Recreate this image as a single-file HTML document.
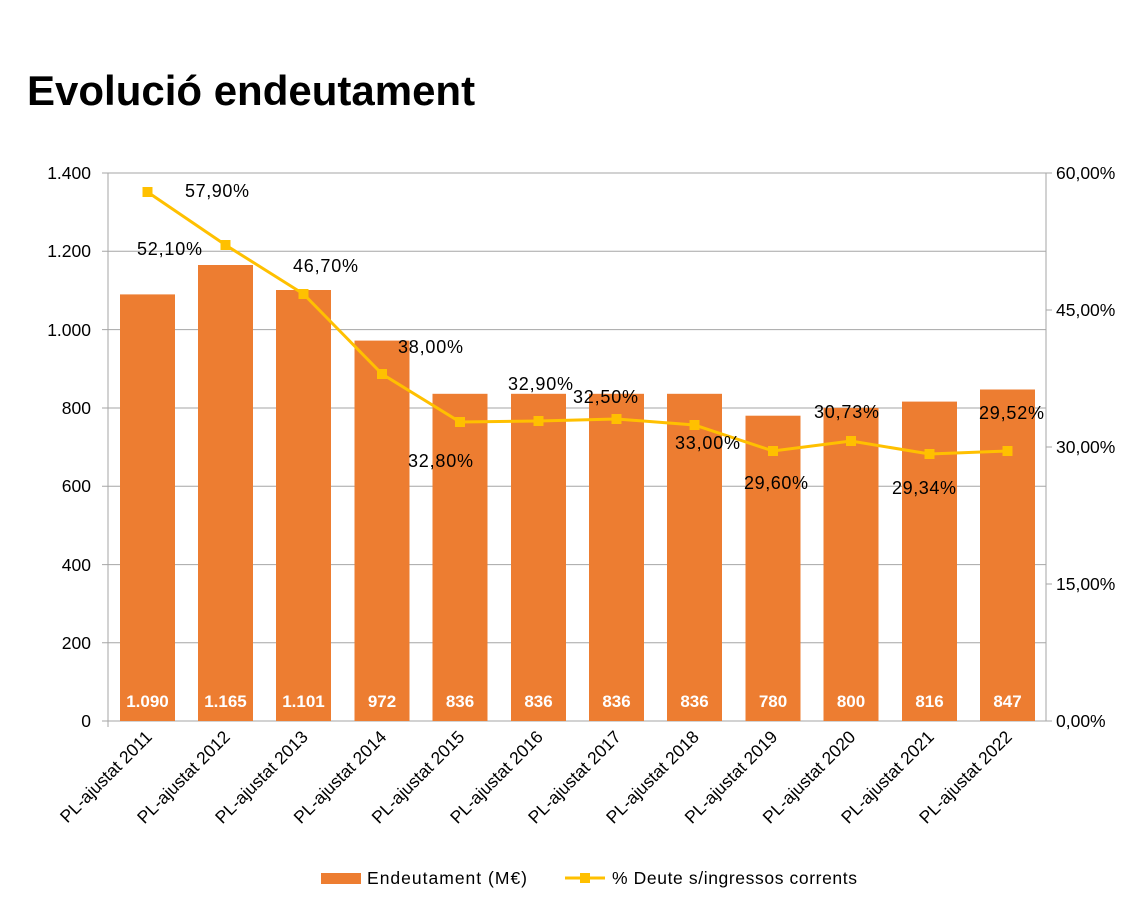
<!DOCTYPE html><html><head><meta charset="utf-8"><style>body{margin:0;background:#fff}svg{display:block}</style></head><body>
<svg width="1142" height="909" xmlns="http://www.w3.org/2000/svg" font-family="Liberation Sans, sans-serif">
<text x="27" y="105" font-size="42" font-weight="bold" fill="#000">Evolució endeutament</text>
<g stroke="#a6a6a6" stroke-width="1">
<line x1="102" y1="173" x2="1046" y2="173"/><line x1="102" y1="251.3" x2="1046" y2="251.3"/><line x1="102" y1="329.6" x2="1046" y2="329.6"/><line x1="102" y1="408" x2="1046" y2="408"/><line x1="102" y1="486.3" x2="1046" y2="486.3"/><line x1="102" y1="564.6" x2="1046" y2="564.6"/><line x1="102" y1="642.7" x2="1046" y2="642.7"/><line x1="102" y1="721" x2="1052" y2="721"/>
<line x1="108" y1="173" x2="108" y2="727"/><line x1="1046" y1="173" x2="1046" y2="721"/>
<line x1="1046" y1="310" x2="1052" y2="310"/><line x1="1046" y1="447" x2="1052" y2="447"/><line x1="1046" y1="584" x2="1052" y2="584"/><line x1="1046" y1="173" x2="1052" y2="173"/>
</g>
<g font-size="17.5" fill="#000" text-anchor="end">
<text x="91" y="179">1.400</text><text x="91" y="257">1.200</text><text x="91" y="336">1.000</text><text x="91" y="414">800</text><text x="91" y="492">600</text><text x="91" y="571">400</text><text x="91" y="649">200</text><text x="91" y="727">0</text>
</g>
<g font-size="17.5" fill="#000">
<text x="1056" y="179">60,00%</text><text x="1056" y="316">45,00%</text><text x="1056" y="453">30,00%</text><text x="1056" y="590">15,00%</text><text x="1056" y="727">0,00%</text>
</g>
<g fill="#ED7D31">
<rect x="120" y="294.4" width="55" height="426.6"/>
<rect x="198" y="265" width="55" height="456"/>
<rect x="276" y="290" width="55" height="431"/>
<rect x="354.5" y="340.6" width="55" height="380.4"/>
<rect x="432.5" y="393.8" width="55" height="327.2"/>
<rect x="511" y="393.8" width="55" height="327.2"/>
<rect x="589" y="393.8" width="55" height="327.2"/>
<rect x="667" y="393.8" width="55" height="327.2"/>
<rect x="745.5" y="415.7" width="55" height="305.3"/>
<rect x="823.5" y="407.9" width="55" height="313.1"/>
<rect x="902" y="401.6" width="55" height="319.4"/>
<rect x="980" y="389.5" width="55" height="331.5"/>
</g>
<g font-size="17" font-weight="bold" fill="#fff" text-anchor="middle">
<text x="147.5" y="707">1.090</text><text x="225.5" y="707">1.165</text><text x="303.5" y="707">1.101</text><text x="382" y="707">972</text><text x="460" y="707">836</text><text x="538.5" y="707">836</text><text x="616.5" y="707">836</text><text x="694.5" y="707">836</text><text x="773" y="707">780</text><text x="851" y="707">800</text><text x="929.5" y="707">816</text><text x="1007.5" y="707">847</text>
</g>
<polyline fill="none" stroke="#FFC000" stroke-width="3" points="147.5,192 225.5,245 303.5,294 382,374 460,422 538.5,421 616.5,419 694.5,425 773,451 851,441 929.5,454 1007.5,451"/>
<g fill="#FFC000">
<rect x="142.5" y="187" width="10" height="10"/><rect x="220.5" y="240" width="10" height="10"/><rect x="298.5" y="289" width="10" height="10"/><rect x="377" y="369" width="10" height="10"/><rect x="455" y="417" width="10" height="10"/><rect x="533.5" y="416" width="10" height="10"/><rect x="611.5" y="414" width="10" height="10"/><rect x="689.5" y="420" width="10" height="10"/><rect x="768" y="446" width="10" height="10"/><rect x="846" y="436" width="10" height="10"/><rect x="924.5" y="449" width="10" height="10"/><rect x="1002.5" y="446" width="10" height="10"/>
</g>
<g font-size="18" fill="#000" textLength="64">
<text x="185" y="197" textLength="64">57,90%</text><text x="137" y="255" textLength="65">52,10%</text><text x="293" y="272" textLength="65">46,70%</text><text x="398" y="353" textLength="65">38,00%</text><text x="408" y="467" textLength="65">32,80%</text><text x="508" y="390" textLength="65">32,90%</text><text x="573" y="403" textLength="65">32,50%</text><text x="675" y="449" textLength="65">33,00%</text><text x="744" y="489" textLength="64">29,60%</text><text x="814" y="418" textLength="65">30,73%</text><text x="892" y="494" textLength="64">29,34%</text><text x="979" y="419" textLength="65">29,52%</text>
</g>
<g font-size="17.5" fill="#000" text-anchor="end">
<text transform="translate(153,738) rotate(-45)">PL-ajustat 2011</text>
<text transform="translate(231,738) rotate(-45)">PL-ajustat 2012</text>
<text transform="translate(309,738) rotate(-45)">PL-ajustat 2013</text>
<text transform="translate(387.5,738) rotate(-45)">PL-ajustat 2014</text>
<text transform="translate(465.5,738) rotate(-45)">PL-ajustat 2015</text>
<text transform="translate(544,738) rotate(-45)">PL-ajustat 2016</text>
<text transform="translate(622,738) rotate(-45)">PL-ajustat 2017</text>
<text transform="translate(700,738) rotate(-45)">PL-ajustat 2018</text>
<text transform="translate(778.5,738) rotate(-45)">PL-ajustat 2019</text>
<text transform="translate(856.5,738) rotate(-45)">PL-ajustat 2020</text>
<text transform="translate(935,738) rotate(-45)">PL-ajustat 2021</text>
<text transform="translate(1013,738) rotate(-45)">PL-ajustat 2022</text>
</g>
<rect x="321" y="873" width="40" height="11" fill="#ED7D31"/>
<text x="367" y="884" font-size="17.5" textLength="160">Endeutament (M€)</text>
<line x1="565" y1="878" x2="605" y2="878" stroke="#FFC000" stroke-width="3"/>
<rect x="580" y="873" width="10" height="10" fill="#FFC000"/>
<text x="612" y="884" font-size="17.5" textLength="245">% Deute s/ingressos corrents</text>
</svg>
</body></html>
